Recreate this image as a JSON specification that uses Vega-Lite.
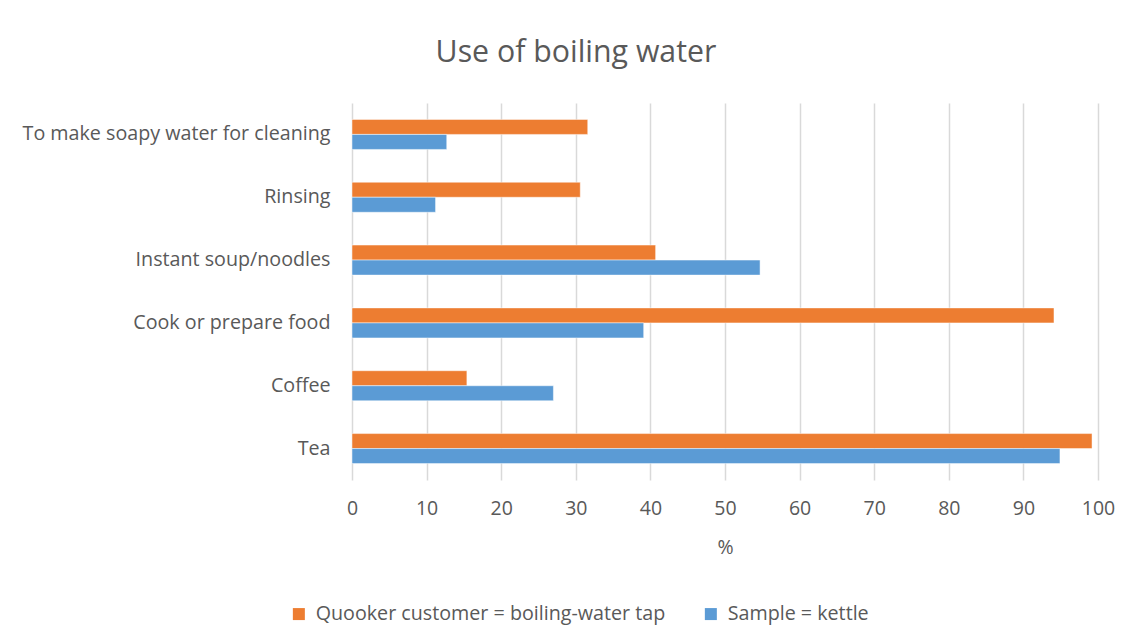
{
  "$schema": "https://vega.github.io/schema/vega-lite/v6.json",
  "autosize": {"type": "none"},
  "width": 746,
  "height": 377,
  "padding": {"left": 352, "top": 103, "right": 35, "bottom": 163},
  "background": "white",
  "title": {
    "text": "Use of boiling water",
    "font": "Open Sans",
    "fontSize": 30.3,
    "fontWeight": "normal",
    "color": "#595959",
    "anchor": "middle",
    "dx": -149,
    "offset": 35
  },
  "data": {
    "values": [
      {"use": "To make soapy water for cleaning", "group": "Quooker customer = boiling-water tap", "pct": 31.6},
      {"use": "To make soapy water for cleaning", "group": "Sample = kettle", "pct": 12.7},
      {"use": "Rinsing", "group": "Quooker customer = boiling-water tap", "pct": 30.6},
      {"use": "Rinsing", "group": "Sample = kettle", "pct": 11.2},
      {"use": "Instant soup/noodles", "group": "Quooker customer = boiling-water tap", "pct": 40.7},
      {"use": "Instant soup/noodles", "group": "Sample = kettle", "pct": 54.7},
      {"use": "Cook or prepare food", "group": "Quooker customer = boiling-water tap", "pct": 94.1},
      {"use": "Cook or prepare food", "group": "Sample = kettle", "pct": 39.1},
      {"use": "Coffee", "group": "Quooker customer = boiling-water tap", "pct": 15.4},
      {"use": "Coffee", "group": "Sample = kettle", "pct": 27.0},
      {"use": "Tea", "group": "Quooker customer = boiling-water tap", "pct": 99.2},
      {"use": "Tea", "group": "Sample = kettle", "pct": 94.9}
    ]
  },
  "mark": {"type": "bar", "stroke": "white", "strokeWidth": 0.8, "strokeOpacity": 0.6},
  "encoding": {
    "y": {
      "field": "use",
      "type": "nominal",
      "sort": null,
      "scale": {"paddingInner": 0.522, "paddingOuter": 0.261},
      "axis": {
        "title": null,
        "domain": false,
        "ticks": false,
        "labelFont": "Open Sans",
        "labelFontSize": 19.7,
        "labelColor": "#595959",
        "labelPadding": 22,
        "labelLimit": 400
      }
    },
    "yOffset": {
      "field": "group",
      "type": "nominal",
      "sort": ["Quooker customer = boiling-water tap", "Sample = kettle"]
    },
    "x": {
      "field": "pct",
      "type": "quantitative",
      "scale": {"domain": [0, 100], "nice": false},
      "axis": {
        "title": "%",
        "titleFont": "Open Sans",
        "titleFontSize": 19.5,
        "titleFontWeight": "normal",
        "titleColor": "#595959",
        "titlePadding": 21,
        "values": [0, 10, 20, 30, 40, 50, 60, 70, 80, 90, 100],
        "domain": false,
        "ticks": false,
        "grid": true,
        "gridColor": "#d9d9d9",
        "gridWidth": 1.5,
        "labelFont": "Open Sans",
        "labelFontSize": 19.5,
        "labelColor": "#595959",
        "labelPadding": 19,
        "labelFlush": false
      }
    },
    "color": {
      "field": "group",
      "type": "nominal",
      "scale": {
        "domain": ["Quooker customer = boiling-water tap", "Sample = kettle"],
        "range": ["#ED7D31", "#5B9BD5"]
      },
      "legend": {
        "title": null,
        "orient": "none",
        "direction": "horizontal",
        "legendX": -63,
        "legendY": 501,
        "symbolType": "square",
        "symbolSize": 144,
        "symbolStrokeWidth": 0,
        "labelFont": "Open Sans",
        "labelFontSize": 19.7,
        "labelColor": "#595959",
        "labelOffset": 7,
        "columnPadding": 35,
        "labelLimit": 500
      }
    }
  },
  "config": {
    "view": {"stroke": null}
  }
}
